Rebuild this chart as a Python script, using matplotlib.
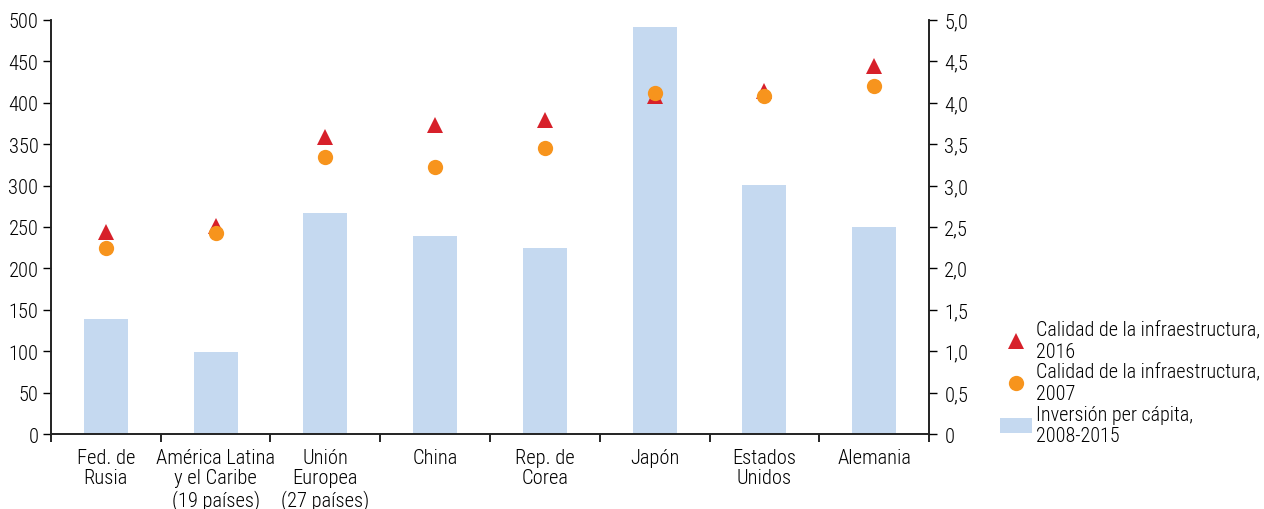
import numpy as np
import matplotlib
matplotlib.use("Agg")
import matplotlib.pyplot as plt
from matplotlib.ticker import FixedLocator, FuncFormatter

plt.rcParams['font.family'] = ['Roboto Condensed', 'DejaVu Sans']
plt.rcParams['font.weight'] = 'light'

categories = ["Fed. de\nRusia", "América Latina\ny el Caribe\n(19 países)", "Unión\nEuropea\n(27 países)",
              "China", "Rep. de\nCorea", "Japón", "Estados\nUnidos", "Alemania"]
inversion = [139, 99, 267, 239, 225, 492, 301, 250]
calidad_2016 = [2.44, 2.51, 3.59, 3.73, 3.79, 4.08, 4.14, 4.44]
calidad_2007 = [2.25, 2.43, 3.35, 3.22, 3.45, 4.12, 4.08, 4.20]

bar_color = "#c5d9f0"
tri_color = "#d7202a"
dot_color = "#f7941d"
fs = 14.8

fig = plt.figure(figsize=(12.64, 5.10), dpi=100)
ax = fig.add_axes([0.0403, 0.147, 0.6947, 0.812])
ax2 = ax.twinx()

x = np.arange(len(categories))
bars = ax.bar(x, inversion, width=0.4, color=bar_color, zorder=1)
tri, = ax2.plot(x, calidad_2016, linestyle="none", marker="^", markersize=12,
                color=tri_color, markeredgewidth=0, zorder=3)
dot, = ax2.plot(x, calidad_2007, linestyle="none", marker="o", markersize=11,
                color=dot_color, markeredgewidth=0, zorder=4)

ax.set_xlim(-0.5, len(categories) - 0.5)
ax.set_ylim(0, 500)
ax2.set_ylim(0, 5)
ax.set_yticks(np.arange(0, 501, 50))
ax2.set_yticks(np.arange(0, 5.01, 0.5))
ax2.yaxis.set_major_formatter(FuncFormatter(lambda v, p: "0" if v == 0 else f"{v:.1f}".replace(".", ",")))

ax.set_xticks(x)
ax.set_xticklabels(categories, fontsize=fs, linespacing=1.1)
ax.xaxis.set_minor_locator(FixedLocator(np.arange(-0.5, len(categories), 1)))
ax.tick_params(axis="x", which="major", length=0, pad=10)
ax.tick_params(axis="x", which="minor", length=6, width=1.2, direction="out")
ax.tick_params(axis="y", length=6, width=1.0, labelsize=fs, pad=3)
ax2.tick_params(axis="y", length=6, width=1.0, labelsize=fs, pad=5)

for a in (ax, ax2):
    a.spines["top"].set_visible(False)
    for s in ("left", "right", "bottom"):
        a.spines[s].set_linewidth(1.2)
        a.spines[s].set_color("#222222")

ax2.patch.set_visible(False)

leg = fig.legend([tri, dot, bars],
                 ["Calidad de la infraestructura,\n2016",
                  "Calidad de la infraestructura,\n2007",
                  "Inversión per cápita,\n2008-2015"],
                 loc="lower left", bbox_to_anchor=(0.791, 0.125), frameon=False,
                 fontsize=14.5, handlelength=1.6, handleheight=0.8, handletextpad=0.2,
                 labelspacing=0.1, borderpad=0, borderaxespad=0)
for t in leg.get_texts():
    t.set_linespacing(1.15)

fig.savefig("out.png", dpi=100, facecolor="white")
